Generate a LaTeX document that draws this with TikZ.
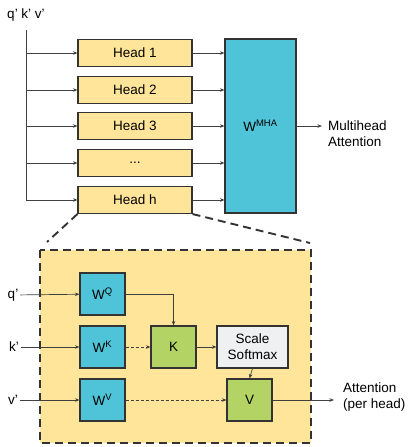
\documentclass[tikz,border=0pt]{standalone}
\usepackage{fontspec}
\setmainfont{Liberation Sans}
\usetikzlibrary{arrows.meta}
\definecolor{headyellow}{HTML}{FFE59A}
\definecolor{wcyan}{HTML}{4FC3D7}
\definecolor{kgreen}{HTML}{B3D465}
\definecolor{softgray}{HTML}{EFF0F2}
\definecolor{edge}{HTML}{333333}
\newcommand{\headdots}{...}
\tikzset{
  headbox/.style  = {draw=edge, line width=1.1pt, fill=headyellow,
                     minimum width=114pt, minimum height=27pt, inner sep=0pt},
  wbox/.style     = {draw=edge, line width=1.1pt, fill=wcyan,
                     minimum width=45pt, minimum height=42pt, inner sep=0pt},
  opbox/.style    = {draw=edge, line width=1.1pt, fill=kgreen,
                     minimum width=45pt, minimum height=42pt, inner sep=0pt},
  normbox/.style  = {draw=edge, line width=1.1pt, fill=softgray, align=center,
                     minimum width=71pt, minimum height=42pt, inner sep=0pt},
  flow/.style     = {-{Stealth[length=4.5pt,width=3.5pt]}, line width=0.7pt, black!75},
  dashflow/.style = {flow, dash pattern=on 3pt off 2pt},
  feed/.style     = {line width=0.7pt, black!75},
  zoomline/.style = {line width=1.9pt, black!80, dash pattern=on 8pt off 5pt},
  txt/.style      = {align=left, inner sep=2pt},
}

\begin{document}
\begin{tikzpicture}[x=1pt, y=-1pt, font=\fontsize{13.5}{16}\selectfont]
\useasboundingbox (0,0) rectangle (407,447);

% ===== head blocks =====
\node[txt] (qkv) at (26,15) {q' k' v'};
\coordinate (split) at (26,30);
\foreach \i/\y/\lbl in {1/53/Head 1, 2/90/Head 2, 3/126/Head 3, 4/163/\headdots, h/200/Head h}
  \node[headbox] (head\i) at (135,\y) {\lbl};
\node[wbox, minimum width=71pt, minimum height=174pt] (mha) at (260.5,126) {W\textsuperscript{MHA}};
\node[txt, anchor=west] (mhaout) at (326,134) {Multihead\\Attention};

\draw[feed] (split) -- (split |- headh.west);
\foreach \i in {1,2,3,4,h} {
  \draw[flow] (split |- head\i.west) -- (head\i.west);
  \draw[flow] (head\i.east) -- (mha.west |- head\i.east);
}
\draw[flow, shorten >=4pt] (mha.east) -- (mhaout.west |- mha.east);

% ===== zoom into head h =====
\coordinate (zl) at (47,242);
\coordinate (zr) at (310,243);
\draw[zoomline] (headh.south west) -- (zl);
\draw[zoomline] (headh.south east) -- (zr);
\draw[zoomline, fill=headyellow] (40,250) rectangle (311,443);

\node[wbox]    (wq) at (102.5,294) {W\textsuperscript{Q}};
\node[wbox]    (wk) at (102.5,347) {W\textsuperscript{K}};
\node[wbox]    (wv) at (102.5,400) {W\textsuperscript{V}};
\node[opbox]   (k)  at (173.5,347) {K};
\node[normbox] (sm) at (252.5,347) {Scale\\Softmax};
\node[opbox]   (v)  at (249.5,400) {V};

\node[txt] (qin) at (13,295) {q'};
\node[txt] (kin) at (14,347) {k'};
\node[txt] (vin) at (13,400) {v'};
\node[txt, anchor=west] (attout) at (341,397) {Attention\\(per head)};

\draw[flow] (qin) -- (wq);
\draw[flow] (kin) -- (wk);
\draw[flow] (vin) -- (wv);
\draw[flow] (wq.east) -| (k.north);
\draw[dashflow] (wk) -- (k);
\draw[flow] (k) -- (sm);
\draw[flow] (sm.south) -- (v.north);
\draw[dashflow] (wv) -- (v);
\draw[flow, shorten >=7pt] (v.east) -- (attout.west |- v.east);

\end{tikzpicture}
\end{document}
